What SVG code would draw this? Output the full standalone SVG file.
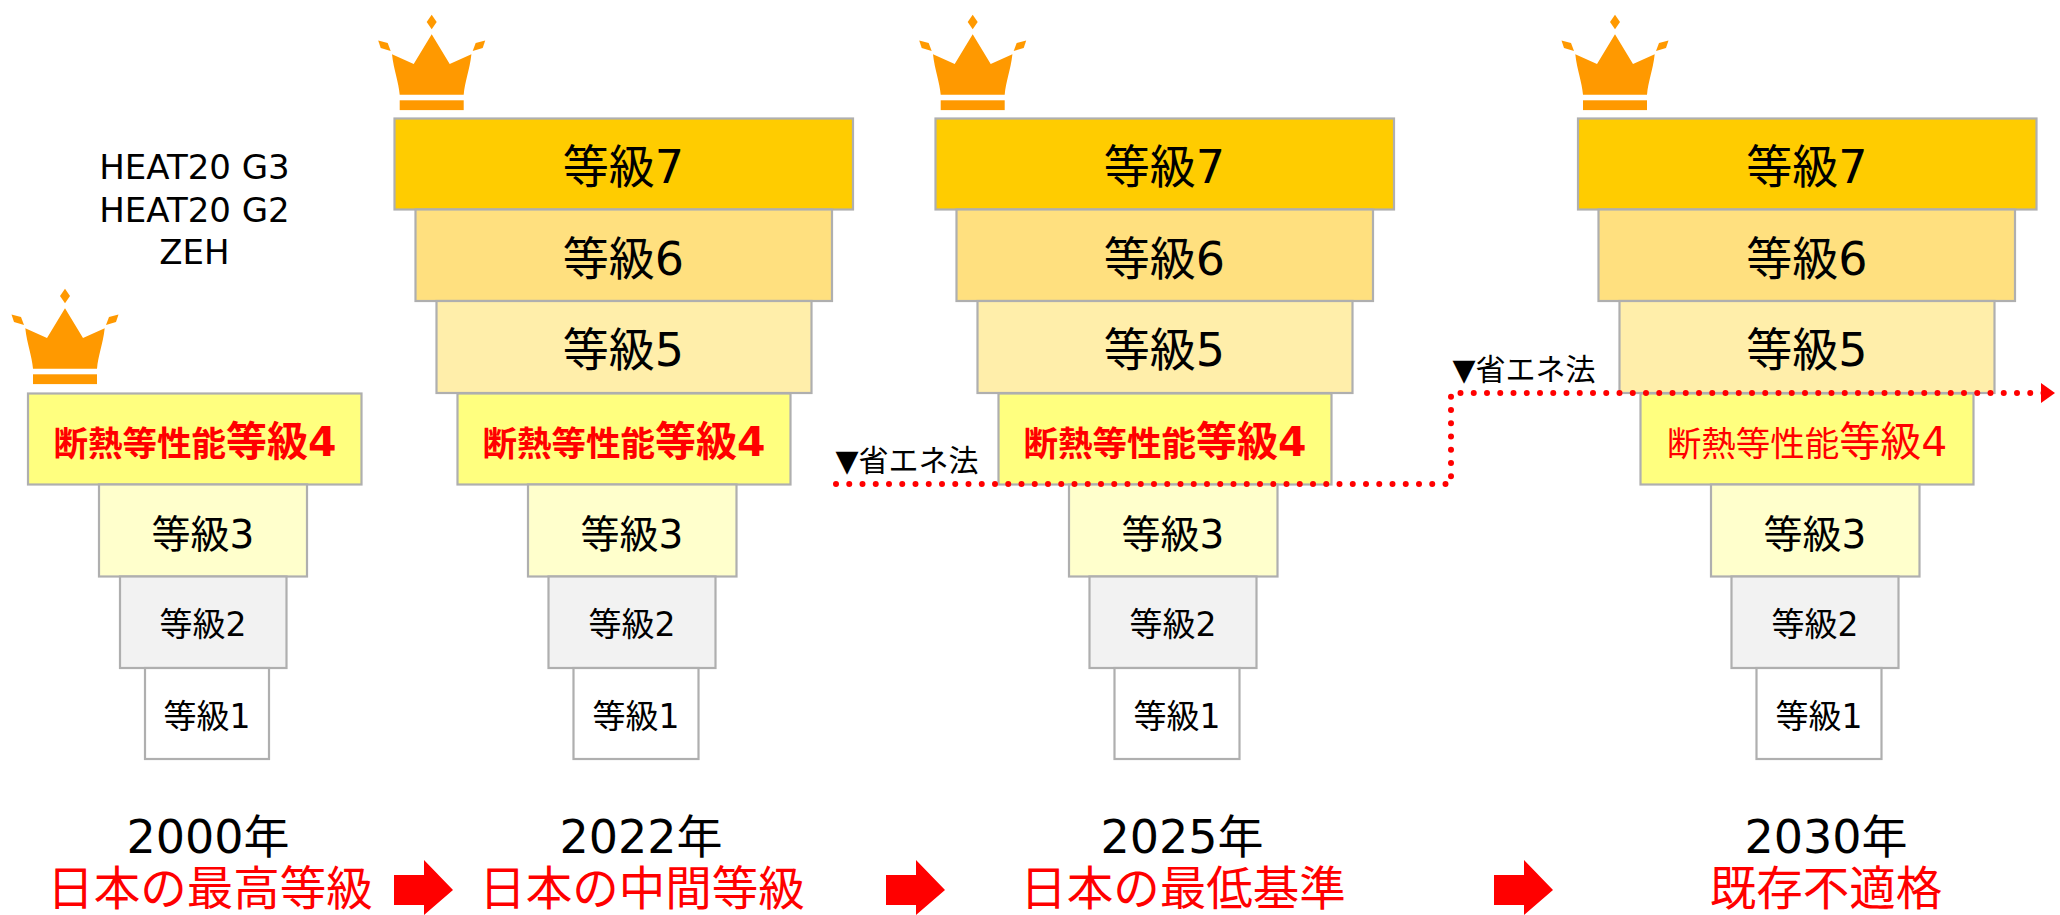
<svg xmlns="http://www.w3.org/2000/svg" xmlns:xlink="http://www.w3.org/1999/xlink" width="2060" height="915" viewBox="0 0 2060 915">
<style>
text{font-family:"DejaVu Sans","Noto Sans CJK JP",sans-serif;text-anchor:middle;fill:#000}
rect{stroke:#AFAFAF;stroke-width:2.2}
.l7{fill:#FFCC00}.l6{fill:#FFE07F}.l5{fill:#FFEEAA}.l4{fill:#FFFF7F}.l3{fill:#FFFFCC}.l2{fill:#F2F2F2}.l1{fill:#FFFFFF}
.t7{font-size:46px}.t3{font-size:39px}.t2{font-size:33px}.t1{font-size:33px}
.b4{fill:#FF0000;font-size:34.5px;font-weight:700}.b4 tspan{font-size:41px}
.n4{fill:#FF0000;font-size:34.5px}.n4 tspan{font-size:41px}
.year{font-size:46px}.note{font-size:46.5px;fill:#FF0000}
.law{font-size:30px}.heat{font-size:34px}
.dots{fill:none;stroke:#FF0000;stroke-width:6;stroke-linecap:round;stroke-dasharray:0 13.25}
.block{fill:#FF0000}
</style>
<defs>
<g id="crown" fill="#FF9900">
<path d="M0,14.7L5,22L0,29.3L-5,22Z"/>
<path d="M-53.5,40.5L-44,43L-41,51L-51,48Z"/>
<path d="M53.5,40.5L44,43L41,51L51,48Z"/>
<path d="M0,34.3L18,64L39.7,54.3C38,70 33,82 32,94.7L-32,94.7C-33,82 -38,70 -39.7,54.3L-18,64Z"/>
<rect x="-32" y="100.3" width="64" height="9.8" style="stroke:none"/>
</g>
<marker id="head" markerUnits="userSpaceOnUse" markerWidth="16" markerHeight="22" refX="3" refY="11" orient="auto">
<path d="M0,1L14,11L0,21Z" fill="#FF0000"/>
</marker>
</defs>

<g id="col-2000">
<g id="c1-crown"><use xlink:href="#crown" href="#crown" transform="translate(65,274)"/></g>
<g id="c1-l4"><rect class="l4" x="28" y="393.5" width="333.5" height="91"/><text class="b4" x="195" y="456">断熱等性能<tspan>等級4</tspan></text></g>
<g id="c1-l3"><rect class="l3" x="99" y="484.5" width="208" height="92"/><text class="t3" x="203" y="548">等級3</text></g>
<g id="c1-l2"><rect class="l2" x="120" y="576.5" width="166.5" height="91.5"/><text class="t2" x="203" y="636">等級2</text></g>
<g id="c1-l1"><rect class="l1" x="145" y="668" width="124" height="91"/><text class="t1" x="207" y="728">等級1</text></g>
<g id="c1-label"><text class="year" x="208" y="853">2000年</text><text class="note" x="210" y="905">日本の最高等級</text></g>
</g>

<g id="heat-labels">
<text class="heat" x="194.5" y="179">HEAT20 G3</text>
<text class="heat" x="194.5" y="222">HEAT20 G2</text>
<text class="heat" x="194.5" y="264">ZEH</text>
</g>

<g id="col-2022">
<g id="c2-crown"><use xlink:href="#crown" href="#crown" transform="translate(431.7,0)"/></g>
<g id="c2-l7"><rect class="l7" x="394.5" y="118.5" width="458.5" height="91"/><text class="t7" x="623.5" y="183">等級7</text></g>
<g id="c2-l6"><rect class="l6" x="415.5" y="209.5" width="416.5" height="91.5"/><text class="t7" x="623.5" y="275">等級6</text></g>
<g id="c2-l5"><rect class="l5" x="436.5" y="301" width="375" height="92"/><text class="t7" x="623.5" y="366">等級5</text></g>
<g id="c2-l4"><rect class="l4" x="457.5" y="393.5" width="333" height="91"/><text class="b4" x="624" y="456">断熱等性能<tspan>等級4</tspan></text></g>
<g id="c2-l3"><rect class="l3" x="528" y="484.5" width="208.5" height="92"/><text class="t3" x="632" y="548">等級3</text></g>
<g id="c2-l2"><rect class="l2" x="548.5" y="576.5" width="167" height="91.5"/><text class="t2" x="632" y="636">等級2</text></g>
<g id="c2-l1"><rect class="l1" x="573.5" y="668" width="125" height="91"/><text class="t1" x="636" y="728">等級1</text></g>
<g id="c2-label"><text class="year" x="641" y="853">2022年</text><text class="note" x="642" y="905">日本の中間等級</text></g>
</g>

<g id="col-2025">
<g id="c3-crown"><use xlink:href="#crown" href="#crown" transform="translate(972.7,0)"/></g>
<g id="c3-l7"><rect class="l7" x="935.5" y="118.5" width="458.5" height="91"/><text class="t7" x="1164.5" y="183">等級7</text></g>
<g id="c3-l6"><rect class="l6" x="956.5" y="209.5" width="416.5" height="91.5"/><text class="t7" x="1164.5" y="275">等級6</text></g>
<g id="c3-l5"><rect class="l5" x="977.5" y="301" width="375" height="92"/><text class="t7" x="1164.5" y="366">等級5</text></g>
<g id="c3-l4"><rect class="l4" x="998.5" y="393.5" width="333" height="91"/><text class="b4" x="1165" y="456">断熱等性能<tspan>等級4</tspan></text></g>
<g id="c3-l3"><rect class="l3" x="1069" y="484.5" width="208.5" height="92"/><text class="t3" x="1173" y="548">等級3</text></g>
<g id="c3-l2"><rect class="l2" x="1089.5" y="576.5" width="167" height="91.5"/><text class="t2" x="1173" y="636">等級2</text></g>
<g id="c3-l1"><rect class="l1" x="1114.5" y="668" width="125" height="91"/><text class="t1" x="1177" y="728">等級1</text></g>
<g id="c3-label"><text class="year" x="1182" y="853">2025年</text><text class="note" x="1183" y="905">日本の最低基準</text></g>
</g>

<g id="col-2030">
<g id="c4-crown"><use xlink:href="#crown" href="#crown" transform="translate(1615,0)"/></g>
<g id="c4-l7"><rect class="l7" x="1578" y="118.5" width="458.5" height="91"/><text class="t7" x="1807" y="183">等級7</text></g>
<g id="c4-l6"><rect class="l6" x="1598.5" y="209.5" width="416.5" height="91.5"/><text class="t7" x="1807" y="275">等級6</text></g>
<g id="c4-l5"><rect class="l5" x="1619.5" y="301" width="375" height="92"/><text class="t7" x="1807" y="366">等級5</text></g>
<g id="c4-l4"><rect class="l4" x="1640.5" y="393.5" width="333" height="91"/><text class="n4" x="1807" y="456">断熱等性能<tspan>等級4</tspan></text></g>
<g id="c4-l3"><rect class="l3" x="1711" y="484.5" width="208.5" height="92"/><text class="t3" x="1815" y="548">等級3</text></g>
<g id="c4-l2"><rect class="l2" x="1731.5" y="576.5" width="167" height="91.5"/><text class="t2" x="1815" y="636">等級2</text></g>
<g id="c4-l1"><rect class="l1" x="1756.5" y="668" width="125" height="91"/><text class="t1" x="1819" y="728">等級1</text></g>
<g id="c4-label"><text class="year" x="1826" y="853">2030年</text><text class="note" x="1826" y="905">既存不適格</text></g>
</g>

<g id="law-labels">
<text class="law" x="907" y="471">▼省エネ法</text>
<text class="law" x="1524" y="380">▼省エネ法</text>
</g>

<g id="connectors">
<path class="dots" d="M836,484H1451V393H2044" marker-end="url(#head)"/>
<polygon class="block" points="394,875 424,875 424,860 453,890 424,915 424,905 394,905"/>
<polygon class="block" points="886,875 916,875 916,860 945,890 916,915 916,905 886,905"/>
<polygon class="block" points="1494,875 1524,875 1524,860 1553,890 1524,915 1524,905 1494,905"/>
</g>
</svg>
